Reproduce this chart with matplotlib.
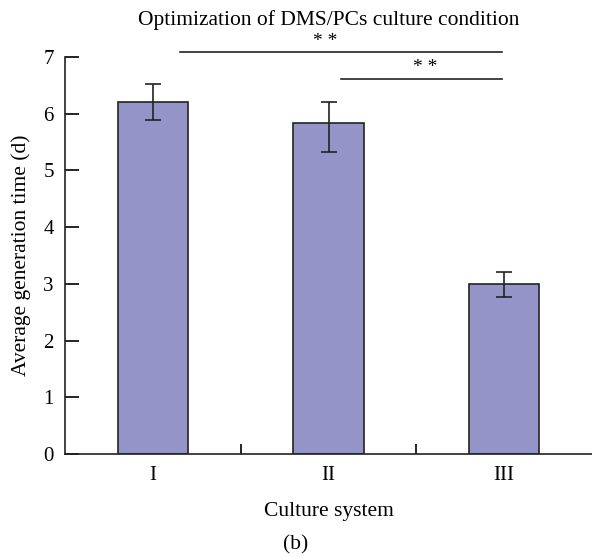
import matplotlib
matplotlib.use("Agg")
import matplotlib.pyplot as plt

plt.rcParams['font.family'] = ['Liberation Serif', 'DejaVu Serif']

# data
systems = ["I", "II", "III"]
mean_time = [6.21, 5.84, 3.0]
err_low = [0.33, 0.51, 0.23]
err_high = [0.32, 0.37, 0.2]

bar_color = "#9494c8"

fig = plt.figure(figsize=(5.92, 5.57), dpi=100)
ax = fig.add_axes([0.1098, 0.185, 0.8902, 0.7127])

x = list(range(len(systems)))
ax.bar(x, mean_time, width=0.4, color=bar_color, edgecolor="#222222", linewidth=1.2,
       yerr=[err_low, err_high], capsize=6,
       error_kw=dict(ecolor="#222222", elinewidth=1.2, capthick=1.2))

ax.set_xlim(-0.5, 2.5)
ax.set_ylim(0, 7)
ax.set_yticks(range(0, 8))
ax.set_xticks(x)
ax.set_xticklabels(systems)
ax.set_xticks([0.5, 1.5], minor=True)

ax.spines["top"].set_visible(False)
ax.spines["right"].set_visible(False)
for s in ["left", "bottom"]:
    ax.spines[s].set_linewidth(1.2)
    ax.spines[s].set_color("#222222")

ax.tick_params(axis="y", direction="in", length=10, width=1.2, labelsize=15, pad=8)
ax.tick_params(axis="x", which="major", length=0, labelsize=15, pad=9)
ax.tick_params(axis="x", which="minor", direction="in", length=7, width=1.2)

ax.set_ylabel("Average generation time (d)", fontsize=15.5, labelpad=9)
ax.set_xlabel("Culture system", fontsize=15.5, labelpad=12)
ax.set_title("Optimization of DMS/PCs culture condition", fontsize=15.5, pad=23)

# significance brackets
ax.plot([0.157, 1.99], [7.08, 7.08], color="#222222", lw=1.2, clip_on=False)
ax.text(0.98, 7.13, "* *", ha="center", va="bottom", fontsize=14)
ax.plot([1.07, 1.99], [6.61, 6.61], color="#222222", lw=1.2, clip_on=False)
ax.text(1.55, 6.66, "* *", ha="center", va="bottom", fontsize=14)

fig.text(0.5, 0.005, "(b)", ha="center", va="bottom", fontsize=15.5)

fig.savefig("out.png", dpi=100)
